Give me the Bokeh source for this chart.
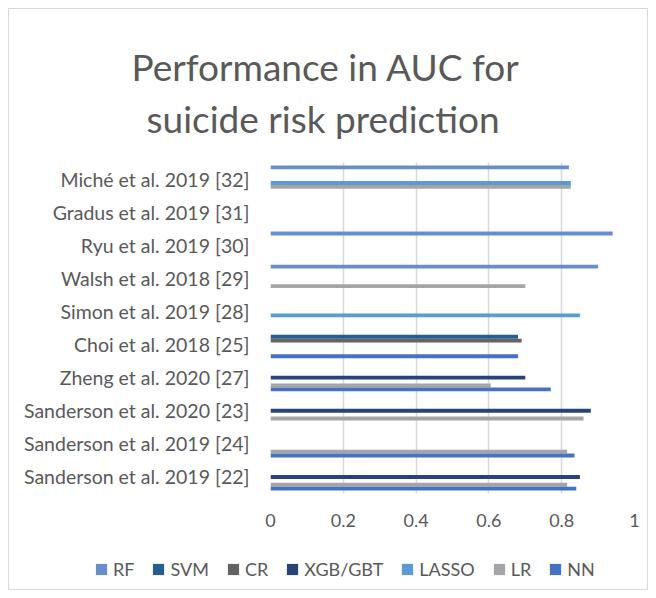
import math
from bokeh.plotting import figure
from bokeh.layouts import column
from bokeh.models import (FactorRange, Range1d, Title, Legend, LegendItem,
                          ColumnDataSource, FixedTicker)
from bokeh.transform import dodge
from bokeh.embed import file_html
from bokeh.resources import INLINE

# ---------------- data ----------------
studies = ["Miché et al. 2019 [32]", "Gradus et al. 2019 [31]", "Ryu et al. 2019 [30]",
           "Walsh et al. 2018 [29]", "Simon et al. 2019 [28]", "Choi et al. 2018 [25]",
           "Zheng et al. 2020 [27]", "Sanderson et al. 2020 [23]",
           "Sanderson et al. 2019 [24]", "Sanderson et al. 2019 [22]"]

series = ["RF", "SVM", "CR", "XGB/GBT", "LASSO", "LR", "NN"]
colors = ["#698ED0", "#255E91", "#636363", "#264478", "#5B9BD5", "#A5A5A5", "#4472C4"]

N = None
rf    = [0.82, N, 0.94, 0.90, N, N, N, N, N, N]
svm   = [N, N, N, N, N, 0.68, N, N, N, N]
cr    = [N, N, N, N, N, 0.69, N, N, N, N]
xgb   = [N, N, N, N, N, N, 0.70, 0.88, N, 0.85]
lasso = [0.825, N, N, N, 0.85, N, N, N, N, N]
lr    = [0.825, N, N, 0.70, N, N, 0.605, 0.86, 0.815, 0.815]
nn    = [N, N, N, N, N, 0.68, 0.77, N, 0.835, 0.84]
values = [rf, svm, cr, xgb, lasso, lr, nn]

x_ticks = [0, 0.2, 0.4, 0.6, 0.8, 1]
x_tick_labels = ["0", "0.2", "0.4", "0.6", "0.8", "1"]

title_lines = ["Performance in AUC for", "suicide risk prediction"]

# ---------------- main figure ----------------
FONT = "Lato"
TXT = "#595959"
BORDER = "#d9d9d9"
g = f"linear-gradient({BORDER},{BORDER})"

p = figure(width=656, height=548, output_backend="svg", toolbar_location=None,
           y_range=FactorRange(factors=list(reversed(studies))),
           x_range=Range1d(0, 1),
           min_border_left=270, min_border_right=22, min_border_top=162,
           min_border_bottom=55)
p.frame_align = False
p.outline_line_color = None
p.background_fill_color = "white"
p.border_fill_alpha = 0
p.styles = {"background": f"{g} 8px 8px/1px 540px no-repeat, "
                          f"{g} 647px 8px/1px 540px no-repeat, "
                          f"{g} 8px 8px/640px 1px no-repeat, #ffffff"}

bar_h = 1 / 8.5
for i, (name, vals, col) in enumerate(zip(series, values, colors)):
    src = ColumnDataSource(dict(
        study=studies,
        auc=[float("nan") if v is None else v for v in vals]))
    off = (3 - i) * bar_h
    p.hbar(y=dodge("study", off, range=p.y_range), left=0, right="auc",
           height=bar_h, source=src, fill_color=col, line_color=None)

# grid
p.ygrid.grid_line_color = None
p.xgrid.grid_line_color = BORDER
p.xgrid.grid_line_width = 1.5
p.xgrid.ticker = FixedTicker(ticks=x_ticks)

# axes
p.xaxis.ticker = FixedTicker(ticks=x_ticks)
p.xaxis.major_label_overrides = {t: l for t, l in zip(x_ticks, x_tick_labels)}
for ax in (p.xaxis[0], p.yaxis[0]):
    ax.axis_line_color = None
    ax.major_tick_line_color = None
    ax.minor_tick_line_color = None
    ax.major_tick_in = 0
    ax.major_tick_out = 0
    ax.major_label_text_font = FONT
    ax.major_label_text_color = TXT
p.xaxis.major_label_text_font_size = "18px"
p.xaxis.major_label_standoff = 20
p.yaxis.major_label_text_font_size = "19.5px"
p.yaxis.major_label_standoff = 21

# title (two lines, stacked outward from the frame)
p.add_layout(Title(text=title_lines[1], align="left", offset=-124, standoff=43,
                   text_font=FONT, text_font_size="37px", text_color=TXT,
                   text_font_style="normal"), "above")
p.add_layout(Title(text=title_lines[0], align="left", offset=-139, standoff=-32,
                   text_font=FONT, text_font_size="37px", text_color=TXT,
                   text_font_style="normal"), "above")

# ---------------- legend strip ----------------
pl = figure(width=656, height=50, output_backend="svg", toolbar_location=None,
            x_range=Range1d(0, 656), y_range=Range1d(0, 50),
            min_border=0, outline_line_color=None)
pl.frame_align = False
pl.xaxis.visible = False
pl.yaxis.visible = False
pl.grid.visible = False
pl.border_fill_alpha = 0
pl.background_fill_alpha = 0
pl.styles = {"background": f"{g} 8px 0px/1px 42px no-repeat, "
                           f"{g} 647px 0px/1px 42px no-repeat, "
                           f"{g} 8px 41px/640px 1px no-repeat, #ffffff"}
items = []
for name, col in zip(series, colors):
    # off-range placeholder bar, only used to draw the legend swatch
    r = pl.hbar(y=[-1000], right=[1], left=0, height=1, fill_color=col, line_color=None)
    items.append(LegendItem(label=name, renderers=[r]))
legend = Legend(items=items, orientation="horizontal", location=(94, 18),
                glyph_width=14, glyph_height=14, label_standoff=5, spacing=17,
                padding=0, margin=0, border_line_color=None,
                background_fill_alpha=0,
                label_text_font=FONT, label_text_font_size="18px",
                label_text_color=TXT)
pl.add_layout(legend, "center")

layout = column(p, pl, spacing=0)

open("out.html", "w").write(file_html(layout, INLINE))
